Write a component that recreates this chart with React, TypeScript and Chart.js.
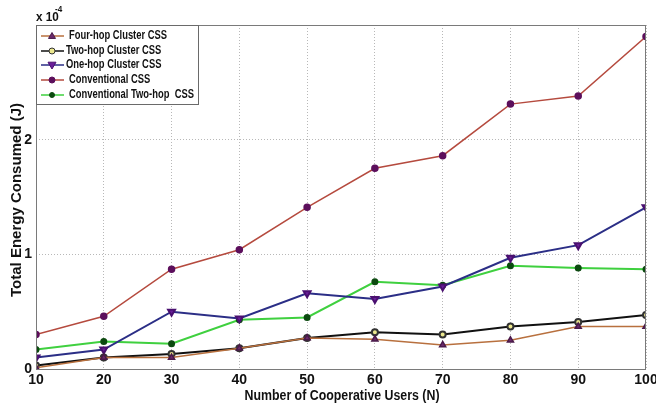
import React, { useEffect, useRef } from "react";
import { Chart, registerables } from "chart.js";

Chart.register(...registerables);

const users = [10, 20, 30, 40, 50, 60, 70, 80, 90, 100];
const fourHop = [0.01, 0.10, 0.10, 0.18, 0.27, 0.26, 0.21, 0.25, 0.37, 0.37];
const twoHop = [0.03, 0.10, 0.13, 0.18, 0.27, 0.32, 0.30, 0.37, 0.41, 0.47];
const oneHop = [0.10, 0.17, 0.50, 0.44, 0.66, 0.61, 0.72, 0.97, 1.08, 1.41];
const conventional = [0.30, 0.46, 0.87, 1.04, 1.41, 1.75, 1.86, 2.31, 2.38, 2.90];
const convTwoHop = [0.17, 0.24, 0.22, 0.43, 0.45, 0.76, 0.73, 0.90, 0.88, 0.87];
const yTickLabels = ["0", "1", "2", ""];

const seriesNames = [
  "Four-hop Cluster CSS",
  "Two-hop Cluster CSS",
  "One-hop Cluster CSS",
  "Conventional CSS",
  "Conventional Two-hop  CSS",
];

const FONT = "'Liberation Sans', Arial, sans-serif";

const toPts = (vals: number[]) => users.map((x, i) => ({ x, y: vals[i] }));

function drawScaled(ctx: any, text: string, x: number, y: number, sx: number, align: string) {
  ctx.save();
  ctx.translate(x, y);
  ctx.scale(sx, 1);
  ctx.textAlign = align;
  ctx.fillText(text, 0, 0);
  ctx.restore();
}

const overlayPlugin = {
  id: "overlay",
  afterDraw(chart: any) {
    const { ctx, chartArea } = chart;
    const { left, right, top, bottom } = chartArea;
    ctx.save();
    ctx.strokeStyle = "#7a7a7a";
    ctx.lineWidth = 1;
    ctx.setLineDash([]);
    ctx.strokeRect(left + 0.5, top + 0.5, right - left - 1, bottom - top);

    ctx.fillStyle = "#111";
    ctx.font = `bold 13px ${FONT}`;
    ctx.textBaseline = "alphabetic";
    drawScaled(ctx, "x 10", 36, 21, 0.9, "left");
    ctx.font = `bold 9px ${FONT}`;
    drawScaled(ctx, "-4", 55, 12, 0.9, "left");

    ctx.save();
    ctx.translate(17, 200);
    ctx.rotate(-Math.PI / 2);
    ctx.font = `bold 14px ${FONT}`;
    ctx.textBaseline = "middle";
    const yt = "Total Energy Consumed (J)";
    drawScaled(ctx, yt, 0, 0, 194 / ctx.measureText(yt).width, "center");
    ctx.restore();

    ctx.font = `bold 14px ${FONT}`;
    ctx.textBaseline = "middle";
    const xt = "Number of Cooperative Users (N)";
    drawScaled(ctx, xt, 342, 396, 195 / ctx.measureText(xt).width, "center");

    const lx = 36, ly = 25, lw = 162, lh = 79;
    ctx.fillStyle = "#fff";
    ctx.fillRect(lx, ly, lw, lh);
    ctx.strokeStyle = "#6a6a6a";
    ctx.lineWidth = 1;
    ctx.strokeRect(lx + 0.5, ly + 0.5, lw, lh);
    const rows = [36, 51, 65, 80, 95];
    ctx.font = `bold 12px ${FONT}`;
    const legScale = 98 / ctx.measureText(seriesNames[0]).width;
    chart.data.datasets.forEach((ds: any, i: number) => {
      const y = rows[i];
      ctx.strokeStyle = ds.borderColor;
      ctx.lineWidth = 1.5;
      ctx.beginPath();
      ctx.moveTo(41, y);
      ctx.lineTo(64, y);
      ctx.stroke();
      const mx = 52;
      ctx.fillStyle = ds.pointBackgroundColor;
      ctx.strokeStyle = ds.pointBorderColor;
      ctx.lineWidth = 1;
      const r = ds.pointRadius;
      ctx.beginPath();
      if (ds.pointStyle === "triangle") {
        const dir = ds.pointRotation === 180 ? -1 : 1;
        ctx.moveTo(mx, y - dir * r);
        ctx.lineTo(mx - r, y + dir * r * 0.7);
        ctx.lineTo(mx + r, y + dir * r * 0.7);
        ctx.closePath();
      } else {
        ctx.arc(mx, y, r, 0, Math.PI * 2);
      }
      ctx.fill();
      ctx.stroke();
      ctx.fillStyle = "#111";
      ctx.font = `bold 12px ${FONT}`;
      ctx.textBaseline = "middle";
      drawScaled(ctx, ds.label, i === 1 || i === 2 ? 66 : 69, y, legScale, "left");
    });
    ctx.restore();
  },
};

export default function App() {
  const ref = useRef<HTMLCanvasElement>(null);
  useEffect(() => {
    if (!ref.current) return;
    const chart = new Chart(ref.current, {
      type: "line",
      data: {
        datasets: [
          {
            label: seriesNames[0],
            data: toPts(fourHop),
            borderColor: "#b8703e",
            borderWidth: 1.5,
            pointStyle: "triangle",
            pointRadius: 3.5,
            pointBackgroundColor: "#6b2a6b",
            pointBorderColor: "#4a1a4a",
            pointRotation: 0,
          },
          {
            label: seriesNames[1],
            data: toPts(twoHop),
            borderColor: "#111111",
            borderWidth: 2,
            pointStyle: "circle",
            pointRadius: 3,
            pointBackgroundColor: "#ece88f",
            pointBorderColor: "#333",
          },
          {
            label: seriesNames[2],
            data: toPts(oneHop),
            borderColor: "#2b2e86",
            borderWidth: 2,
            pointStyle: "triangle",
            pointRadius: 4,
            pointRotation: 180,
            pointBackgroundColor: "#6a1e9a",
            pointBorderColor: "#4a1070",
          },
          {
            label: seriesNames[3],
            data: toPts(conventional),
            borderColor: "#b54a3e",
            borderWidth: 1.5,
            pointStyle: "circle",
            pointRadius: 3,
            pointBackgroundColor: "#5c0f5c",
            pointBorderColor: "#5c0f5c",
          },
          {
            label: seriesNames[4],
            data: toPts(convTwoHop),
            borderColor: "#3fd03f",
            borderWidth: 2,
            pointStyle: "circle",
            pointRadius: 2.5,
            pointBackgroundColor: "#0c4a10",
            pointBorderColor: "#0c4a10",
          },
        ] as any,
      },
      options: {
        responsive: false,
        animation: false,
        layout: { padding: { left: 0, right: 10, top: 25, bottom: 0 } },
        plugins: { legend: { display: false }, tooltip: { enabled: false } },
        elements: { line: { tension: 0 } },
        scales: {
          x: {
            type: "linear",
            min: 10,
            max: 100,
            afterFit: (s: any) => { s.height = 37; s.paddingLeft = 0; s.paddingRight = 0; },
            ticks: {
              stepSize: 10,
              padding: 3,
              color: "#111",
              font: { family: FONT, size: 14, weight: "bold" },
              callback: (v: any) => String(v),
            },
            grid: { color: "#b8b8b8", drawTicks: false, lineWidth: 1 },
            border: { display: false, dash: [1, 2] },
          },
          y: {
            min: 0,
            max: 3,
            afterFit: (s: any) => { s.width = 36; s.paddingTop = 0; s.paddingBottom = 0; },
            ticks: {
              stepSize: 1,
              padding: 4,
              color: "#111",
              font: { family: FONT, size: 14, weight: "bold" },
              callback: (v: any) => yTickLabels[Math.round(v)] ?? "",
            },
            grid: { color: "#b8b8b8", drawTicks: false, lineWidth: 1 },
            border: { display: false, dash: [1, 2] },
          },
        },
      } as any,
      plugins: [overlayPlugin],
    });
    return () => chart.destroy();
  }, []);
  return (
    <div style={{ position: "fixed", left: 0, top: 0, width: 656, height: 406, background: "#fff" }}>
      <canvas ref={ref} width={656} height={406} style={{ width: 656, height: 406 }} />
    </div>
  );
}
